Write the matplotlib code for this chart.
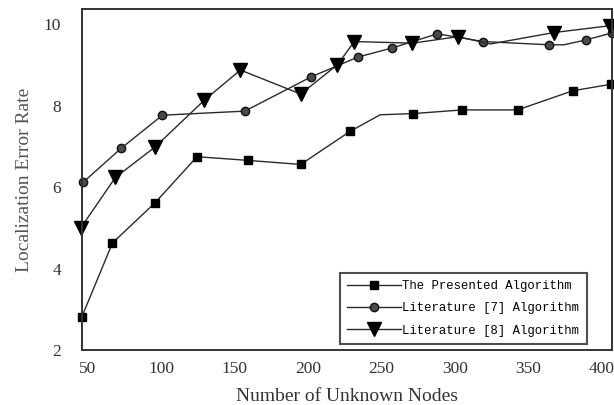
# Localization error rate vs number of unknown nodes, three algorithms

import matplotlib
matplotlib.use("Agg")
import matplotlib.pyplot as plt

# line vertices (some vertices carry no marker)
presented_x = [46, 67, 96, 124.5, 159, 195, 228.5, 249, 271.5, 305, 342.5, 380, 406]
presented_y = [2.80, 4.63, 5.62, 6.75, 6.66, 6.56, 7.37, 7.78, 7.81, 7.90, 7.90, 8.37, 8.53]
presented_marks = [0, 1, 2, 3, 4, 5, 6, 8, 9, 10, 11, 12]

lit7_x = [47, 73, 101, 157, 202, 234, 257, 288, 319, 364, 374, 389, 406.5]
lit7_y = [6.12, 6.96, 7.77, 7.87, 8.71, 9.20, 9.42, 9.77, 9.58, 9.50, 9.50, 9.62, 9.79]
lit7_marks = [0, 1, 2, 3, 4, 5, 6, 7, 8, 9, 11, 12]

lit8_x = [45.6, 69, 96, 129.5, 154, 195, 220, 231.5, 271, 302, 324, 367, 405.5]
lit8_y = [5.01, 6.24, 6.99, 8.14, 8.88, 8.29, 9.01, 9.58, 9.54, 9.70, 9.52, 9.80, 9.97]
lit8_marks = [0, 1, 2, 3, 4, 5, 6, 7, 8, 9, 11, 12]

labels = ["The Presented Algorithm", "Literature [7] Algorithm", "Literature [8] Algorithm"]
x_ticks = [50, 100, 150, 200, 250, 300, 350, 400]
y_ticks = [2, 4, 6, 8, 10]

fig = plt.figure(figsize=(6.14, 4.05), dpi=100)
ax = fig.add_axes([0.1336, 0.1358, 0.8631, 0.842])

line_kw = dict(color="#2a2a2a", lw=1.0, clip_on=False)
ax.plot(presented_x, presented_y, marker="s", ms=6.2, mfc="black", mec="black",
        markevery=presented_marks, label=labels[0], **line_kw)
ax.plot(lit7_x, lit7_y, marker="o", ms=6.0, mfc="#4a4a4a", mec="#111111",
        markevery=lit7_marks, label=labels[1], **line_kw)
ax.plot(lit8_x, lit8_y, marker="v", ms=10.5, mfc="black", mec="black",
        markevery=lit8_marks, label=labels[2], **line_kw)

ax.set_xlim(46.3, 406.7)
ax.set_ylim(2.06, 10.38)
ax.set_xticks(x_ticks)
ax.set_yticks(y_ticks)
ax.tick_params(axis="both", length=0, labelsize=12.5, colors="#333333")
ax.tick_params(axis="x", pad=8)
ax.tick_params(axis="y", pad=15)
for lab in ax.get_xticklabels() + ax.get_yticklabels():
    lab.set_family("Liberation Serif")

for s in ax.spines.values():
    s.set_color("#333333")
    s.set_linewidth(1.4)

ax.set_xlabel("Number of Unknown Nodes", family="Liberation Serif", fontsize=14,
              color="#333333", labelpad=8)
ax.set_ylabel("Localization Error Rate", family="Liberation Serif", fontsize=14,
              color="#555555", labelpad=8)

leg = ax.legend(loc="lower left", bbox_to_anchor=(0.487, 0.0176), frameon=True,
                fancybox=False, edgecolor="#222222", numpoints=1,
                prop={"family": "Liberation Mono", "size": 8.8},
                handlelength=4.4, handletextpad=0.1, labelspacing=0.85,
                borderpad=0.6, borderaxespad=0)
leg.get_frame().set_linewidth(1.5)

fig.savefig("out.png", dpi=100)
